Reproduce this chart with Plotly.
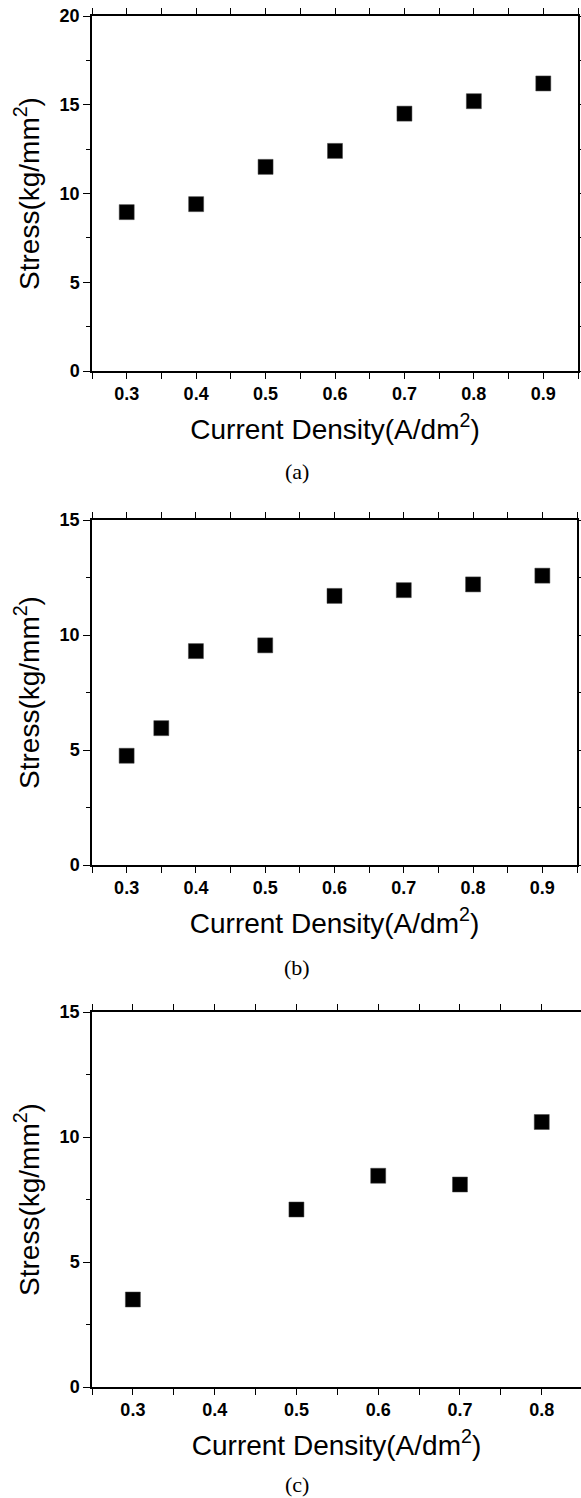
import plotly.graph_objects as go

# Panel (a)
x_a = [0.3, 0.4, 0.5, 0.6, 0.7, 0.8, 0.9]
y_a = [8.95, 9.4, 11.5, 12.4, 14.5, 15.2, 16.2]
# Panel (b)
x_b = [0.3, 0.35, 0.4, 0.5, 0.6, 0.7, 0.8, 0.9]
y_b = [4.75, 5.95, 9.3, 9.55, 11.7, 11.95, 12.2, 12.58]
# Panel (c)
x_c = [0.3, 0.5, 0.6, 0.7, 0.8]
y_c = [3.5, 7.1, 8.45, 8.1, 10.6]

captions = ["(a)", "(b)", "(c)"]
x_title = "Current Density(A/dm<sup>2</sup>)"
y_title = "Stress(kg/mm<sup>2</sup>)"

W, H = 581, 1498

def px_x(p):
    return p / W

def px_y(p):
    return 1 - p / H

fig = go.Figure()

panels = [
    dict(x=x_a, y=y_a, xr=[0.25, 0.95], yr=[0, 20], xd=[92, 578], yd=[16, 371], mirror_y=True, cap_y=471),
    dict(x=x_b, y=y_b, xr=[0.25, 0.95], yr=[0, 15], xd=[92, 577], yd=[520, 865], mirror_y=True, cap_y=967),
    dict(x=x_c, y=y_c, xr=[0.25, 0.848], yr=[0, 15], xd=[92, 581], yd=[1012, 1387], mirror_y=False, cap_y=1484),
]

tickfont = dict(family="Liberation Sans, Arial", size=18, color="black", weight="bold")
titlefont = dict(family="Liberation Sans, Arial", size=28, color="black")

for i, p in enumerate(panels):
    sfx = "" if i == 0 else str(i + 1)
    fig.add_trace(go.Scatter(
        x=p["x"], y=p["y"], mode="markers",
        marker=dict(symbol="square", size=15, color="black", line=dict(color="#444", width=0.5)),
        xaxis="x" + sfx, yaxis="y" + sfx, showlegend=False,
    ))
    xa = dict(
        domain=[px_x(p["xd"][0]), min(1.0, px_x(p["xd"][1]))],
        range=p["xr"], anchor="y" + sfx, automargin=False,
        dtick=0.1, tick0=0, tickformat=".1f",
        ticks="outside", ticklen=6, tickwidth=1.3, tickcolor="black",
        minor=dict(dtick=0.05, tick0=0, ticks="outside", ticklen=6, tickwidth=1.3, tickcolor="black"),
        showline=True, linecolor="black", linewidth=1.5, mirror="ticks",
        showgrid=False, zeroline=False,
        tickfont=tickfont,
        title=dict(text=x_title, font=titlefont, standoff=16),
    )
    ya = dict(
        domain=[px_y(p["yd"][1]), px_y(p["yd"][0])],
        range=p["yr"], anchor="x" + sfx, automargin=False,
        dtick=5, tick0=0,
        ticks="outside", ticklen=7, tickwidth=1.3, tickcolor="black",
        minor=dict(dtick=2.5, tick0=0, ticks="outside", ticklen=4, tickwidth=1.3, tickcolor="black"),
        showline=True, linecolor="black", linewidth=1.5, mirror="ticks" if p["mirror_y"] else False,
        showgrid=False, zeroline=False,
        tickfont=tickfont,
        title=dict(text=y_title, font=titlefont, standoff=12),
    )
    fig.layout["xaxis" + sfx] = xa
    fig.layout["yaxis" + sfx] = ya
    fig.add_annotation(
        text=captions[i], x=px_x(297), y=px_y(p["cap_y"]), xref="paper", yref="paper",
        showarrow=False, xanchor="center", yanchor="middle",
        font=dict(family="Liberation Serif, Times New Roman", size=22, color="black"),
    )

fig.update_layout(
    width=W, height=H,
    margin=dict(l=0, r=0, t=0, b=0, autoexpand=False),
    paper_bgcolor="white", plot_bgcolor="white",
)

fig.write_html(
    "out.html",
    config={"displayModeBar": False},
    post_script="document.body.style.margin='0';document.body.style.overflow='hidden';",
)
